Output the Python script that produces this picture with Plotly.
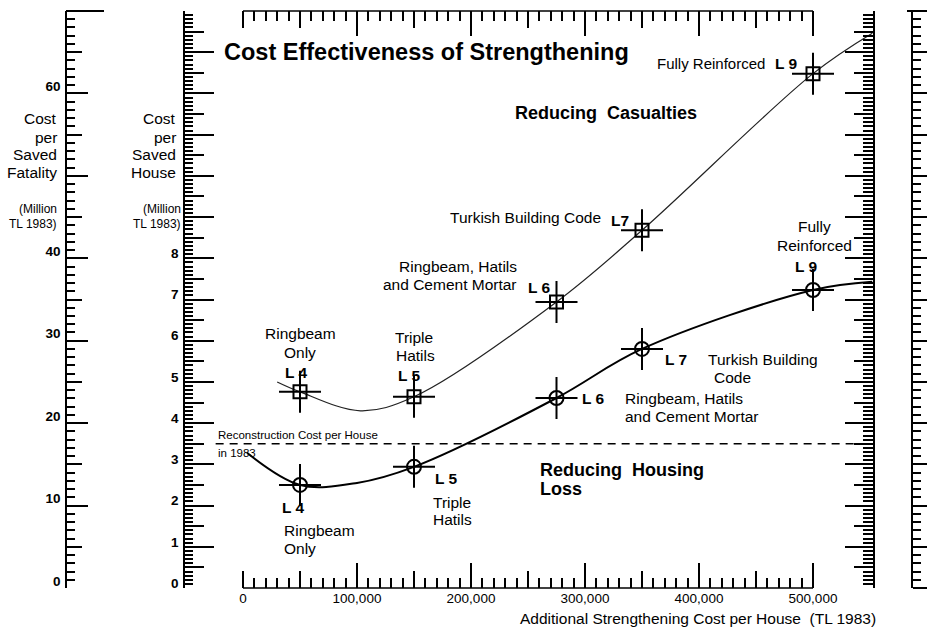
import plotly.graph_objects as go

# ---------------- data ----------------
levels = ["L4", "L5", "L6", "L7", "L9"]
strengthening_cost = [50000, 150000, 275000, 350000, 500000]
cost_per_saved_fatality = [23.8, 23.2, 34.7, 43.4, 62.4]   # million TL 1983
cost_per_saved_house = [2.50, 2.94, 4.61, 5.80, 7.23]      # million TL 1983

fatality_curve_x = [30000, 50000, 103000, 150000, 275000, 350000, 500000, 552000]
fatality_curve_y = [25.0, 23.8, 21.5, 23.2, 34.7, 43.4, 62.4, 67.3]
house_curve_x = [3500, 50000, 100000, 150000, 275000, 350000, 500000, 552000]
house_curve_y = [3.28, 2.50, 2.55, 2.94, 4.61, 5.80, 7.23, 7.43]

reconstruction_cost = 3.5
reconstruction_span = [-24000, 545000]

x_major = [100000, 200000, 300000, 400000, 500000]
x_major_text = ["100,000", "200,000", "300,000", "400,000", "500,000"]
x_medium = [0, 50000, 150000, 250000, 350000, 450000]
x_medium_text = ["0", "", "", "", "", ""]
x_minor = [v * 10000 for v in range(0, 51) if v % 5 != 0]

house_major = list(range(0, 15))
house_major_text = ["<b>%d</b>" % v if v <= 8 else "" for v in house_major]
house_medium = [v + 0.5 for v in range(0, 14)]
house_minor = [v / 10 for v in range(0, 141) if v % 5 != 0]

fat_major = list(range(0, 71, 10))
fat_major_text = ["<b>%s</b>" % t for t in ["0", "10", "20", "30", "40", "", "60", "70"]]
fat_medium = list(range(5, 70, 10))
fat_minor = [v for v in range(0, 71) if v % 5 != 0]

# ---------------- geometry ----------------
W, H = 927, 630
TOP, BOTTOM = 11, 588
FONT = "Liberation Sans, Arial, sans-serif"
X0_PX, PX_PER_UNIT = 243, 570 / 500000
xrange_ = [(185 - X0_PX) / PX_PER_UNIT, (873 - X0_PX) / PX_PER_UNIT]


def px(x):
    return x / W


def py(y):
    return (BOTTOM - y) / (BOTTOM - TOP)


fig = go.Figure()

# curves
fig.add_trace(go.Scatter(x=fatality_curve_x, y=fatality_curve_y, yaxis="y2", mode="lines",
                         line=dict(color="#222", width=1.2, shape="spline", smoothing=1.0),
                         hoverinfo="skip"))
fig.add_trace(go.Scatter(x=house_curve_x, y=house_curve_y, mode="lines",
                         line=dict(color="black", width=2, shape="spline", smoothing=1.0),
                         hoverinfo="skip"))
# reconstruction cost line
fig.add_trace(go.Scatter(x=reconstruction_span, y=[reconstruction_cost] * 2, mode="lines",
                         line=dict(color="black", width=1.6, dash="8px,6px"), hoverinfo="skip"))

# markers: square + cross (fatality), circle + cross (house)
for sym, size in [("cross-thin-open", 30), ("square-open", 13)]:
    fig.add_trace(go.Scatter(x=strengthening_cost, y=cost_per_saved_fatality, yaxis="y2",
                             mode="markers", text=levels,
                             marker=dict(symbol=sym, size=size, color="black",
                                         line=dict(color="black", width=2))))
for sym, size in [("cross-thin-open", 30), ("circle-open", 14)]:
    fig.add_trace(go.Scatter(x=strengthening_cost, y=cost_per_saved_house,
                             mode="markers", text=levels,
                             marker=dict(symbol=sym, size=size, color="black",
                                         line=dict(color="black", width=2))))

# empty traces so that the extra tick-only axes are drawn
for xa, ya in [("x2", "y"), ("x3", "y"), ("x4", "y"), ("x", "y3"), ("x", "y4"),
               ("x", "y5"), ("x", "y6"), ("x", "y7"), ("x", "y8")]:
    fig.add_trace(go.Scatter(x=[None], y=[None], xaxis=xa, yaxis=ya, mode="markers",
                             hoverinfo="skip"))

tickfont = dict(family=FONT, size=13.5, color="black")
common_x = dict(range=xrange_, showgrid=False, zeroline=False, showline=False,
                ticks="inside", tickwidth=1.5, tickcolor="black", tickmode="array",
                automargin=False)
common_y = dict(showgrid=False, zeroline=False, tickwidth=1.5, tickcolor="black",
                tickmode="array", linecolor="black", linewidth=1.5, automargin=False)

fig.update_layout(
    width=W, height=H, margin=dict(l=0, r=0, t=TOP, b=H - BOTTOM, autoexpand=False),
    paper_bgcolor="white", plot_bgcolor="white", showlegend=False,
    font=dict(family=FONT, color="black"),
    xaxis=dict(**common_x, domain=[px(185), px(873)], anchor="y",
               tickvals=x_major, ticktext=x_major_text, ticklen=25, tickfont=tickfont,
               minor=dict(tickmode="array", tickvals=x_minor, ticklen=10, tickwidth=1.5,
                          tickcolor="black", ticks="inside")),
    xaxis3=dict(**common_x, overlaying="x", anchor="y", side="bottom",
                tickvals=x_medium, ticktext=x_medium_text, ticklen=17, tickfont=tickfont),
    xaxis2=dict(**common_x, overlaying="x", anchor="y", side="top",
                tickvals=x_major, ticklen=25, showticklabels=False,
                minor=dict(tickmode="array", tickvals=x_minor, ticklen=10, tickwidth=1.5,
                           tickcolor="black", ticks="inside")),
    xaxis4=dict(**common_x, overlaying="x", anchor="y", side="top",
                tickvals=x_medium, ticklen=17, showticklabels=False),
    # house, left
    yaxis=dict(**common_y, range=[0, 14], domain=[0, 1], anchor="x", side="left",
               showline=True, ticks="inside", ticklen=29, tickvals=house_major,
               ticktext=house_major_text, tickfont=dict(family=FONT, size=13.5, color="black"),
               ticklabelshift=-5, ticklabelstandoff=2,
               minor=dict(tickmode="array", tickvals=house_minor, ticklen=8, tickwidth=1.5,
                          tickcolor="black", ticks="inside")),
    yaxis5=dict(**common_y, range=[0, 14], overlaying="y", anchor="x", side="left",
                showline=False, ticks="inside", ticklen=19, tickvals=house_medium,
                showticklabels=False),
    # house, right
    yaxis3=dict(**common_y, range=[0, 14], overlaying="y", anchor="x", side="right",
                showline=True, ticks="inside", ticklen=28, tickvals=house_major,
                showticklabels=False,
                minor=dict(tickmode="array", tickvals=house_minor, ticklen=10, tickwidth=1.5,
                           tickcolor="black", ticks="inside")),
    yaxis6=dict(**common_y, range=[0, 14], overlaying="y", anchor="x", side="right",
                showline=False, ticks="inside", ticklen=19, tickvals=house_medium,
                showticklabels=False),
    # fatality, left
    yaxis2=dict(**common_y, range=[0, 70], overlaying="y", anchor="free", position=px(66),
                side="left", showline=True, ticks="inside", ticklen=21, tickvals=fat_major,
                ticktext=fat_major_text, tickfont=dict(family=FONT, size=13.5, color="black"),
                ticklabelshift=-7, ticklabelstandoff=2,
                minor=dict(tickmode="array", tickvals=fat_minor, ticklen=8, tickwidth=1.5,
                           tickcolor="black", ticks="inside")),
    yaxis7=dict(**common_y, range=[0, 70], overlaying="y", anchor="free", position=px(66),
                side="left", showline=False, ticks="inside", ticklen=15, tickvals=fat_medium,
                showticklabels=False),
    # fatality, right
    yaxis4=dict(**common_y, range=[0, 70], overlaying="y", anchor="free", position=px(912),
                side="right", showline=True, ticks="outside", ticklen=21, tickvals=fat_major,
                showticklabels=False,
                minor=dict(tickmode="array", tickvals=fat_minor, ticklen=8, tickwidth=1.5,
                           tickcolor="black", ticks="outside")),
    yaxis8=dict(**common_y, range=[0, 70], overlaying="y", anchor="free", position=px(912),
                side="right", showline=False, ticks="outside", ticklen=15, tickvals=fat_medium,
                showticklabels=False),
)

# x axis base lines (0 .. 500,000) at bottom and top
for yv in (0, 1):
    fig.add_shape(type="line", xref="x", yref="paper", x0=0, x1=500000, y0=yv, y1=yv,
                  line=dict(color="black", width=1.5))
# long top tick of the fatality scales
fig.add_shape(type="line", xref="paper", yref="paper", x0=px(66), x1=px(104), y0=1, y1=1,
              line=dict(color="black", width=2))
fig.add_shape(type="line", xref="paper", yref="paper", x0=px(907), x1=1, y0=1, y1=1,
              line=dict(color="black", width=2))

TXT = 15.5


def ann(text, x, y, size=TXT, bold=False, anchor="left"):
    if bold:
        text = "<b>" + text + "</b>"
    fig.add_annotation(text=text, x=px(x), y=py(y), xref="paper", yref="paper",
                       xanchor=anchor, yanchor="middle", showarrow=False,
                       font=dict(family=FONT, size=size, color="black"))


ann("Cost Effectiveness of Strengthening", 222, 52, 23.5, True)
ann("Fully Reinforced", 767, 63, 15, anchor="right")
ann("L 9", 773, 63, TXT, True)
ann("Reducing  Casualties", 513, 113, 18, True)
ann("Turkish Building Code", 448, 218)
ann("L7", 609, 220, TXT, True)
ann("Ringbeam, Hatils", 519, 266, anchor="right")
ann("and Cement Mortar", 519, 284, anchor="right")
ann("L 6", 526, 287, TXT, True)
ann("Ringbeam", 300, 333, anchor="center")
ann("Only", 300, 352, anchor="center")
ann("L 4", 296, 372, TXT, True, "center")
ann("Triple", 414, 337, anchor="center")
ann("Hatils", 415, 355, anchor="center")
ann("L 5", 409, 375, TXT, True, "center")

ann("L 6", 580, 398, TXT, True)
ann("Fully", 814, 227, anchor="center")
ann("Reinforced", 814, 245, anchor="center")
ann("L 9", 806, 266, TXT, True, "center")
ann("L 7", 663, 359, TXT, True)
ann("Turkish Building", 706, 359)
ann("Code", 712, 377)
ann("Ringbeam, Hatils", 623, 398)
ann("and Cement Mortar", 623, 416)
ann("Reducing  Housing", 538, 470, 18, True)
ann("Loss", 538, 489, 18, True)
ann("L 5", 433, 478, TXT, True)
ann("Triple", 431, 502)
ann("Hatils", 431, 519)
ann("L 4", 280, 507, TXT, True)
ann("Ringbeam", 282, 530)
ann("Only", 282, 548)
ann("Reconstruction Cost per House", 216, 435, 11.5)
ann("in 1983", 216, 453, 11.5)
ann("Additional Strengthening Cost per House  (TL 1983)", 878, 618, TXT, anchor="right")

for i, word in enumerate(["Cost", "per", "Saved", "Fatality"]):
    ann(word, 59, [118, 137, 154, 173][i], TXT, anchor="right")
ann("(Million", 59, 209, 12, anchor="right")
ann("TL 1983)", 59, 224, 12, anchor="right")
for i, word in enumerate(["Cost", "per", "Saved", "House"]):
    ann(word, 178, [118, 137, 154, 173][i], TXT, anchor="right")
ann("(Million", 183, 209, 12, anchor="right")
ann("TL 1983)", 183, 224, 12, anchor="right")

fig.write_html("out.html", config={"displayModeBar": False},
               post_script="document.body.style.margin='0';document.body.style.overflow='hidden';")
